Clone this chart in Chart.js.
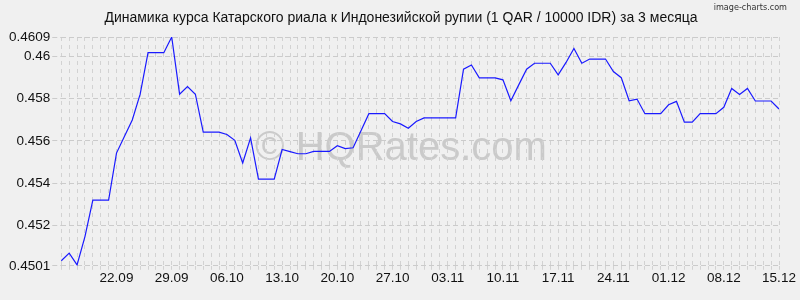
<!DOCTYPE html>
<html lang="ru">

<head>
    <meta charset="UTF-8">
    <title>QAR / IDR</title>
    <style>
        body { margin: 0; background: #f0f0f0; }
    </style>
</head>

<body>
    <canvas id="myChart" width="800" height="300"></canvas>

    <script src="https://cdn.jsdelivr.net/npm/chart.js"></script>

    <script>
        // даты (по дням, 15.09 - 15.12)
        const v_dates = [
            "15.09", "16.09", "17.09", "18.09", "19.09", "20.09", "21.09", "22.09", "23.09", "24.09",
            "25.09", "26.09", "27.09", "28.09", "29.09", "30.09",
            "01.10", "02.10", "03.10", "04.10", "05.10", "06.10", "07.10", "08.10", "09.10", "10.10",
            "11.10", "12.10", "13.10", "14.10", "15.10", "16.10", "17.10", "18.10", "19.10", "20.10",
            "21.10", "22.10", "23.10", "24.10", "25.10", "26.10", "27.10", "28.10", "29.10", "30.10", "31.10",
            "01.11", "02.11", "03.11", "04.11", "05.11", "06.11", "07.11", "08.11", "09.11", "10.11",
            "11.11", "12.11", "13.11", "14.11", "15.11", "16.11", "17.11", "18.11", "19.11", "20.11",
            "21.11", "22.11", "23.11", "24.11", "25.11", "26.11", "27.11", "28.11", "29.11", "30.11",
            "01.12", "02.12", "03.12", "04.12", "05.12", "06.12", "07.12", "08.12", "09.12", "10.12",
            "11.12", "12.12", "13.12", "14.12", "15.12"
        ];

        // курс 1 QAR / 10000 IDR
        const v_rates = [
            0.45034, 0.45070, 0.45014, 0.45148, 0.45320, 0.45320, 0.45320, 0.45542, 0.45620, 0.45698,
            0.45820, 0.46016, 0.46016, 0.46016, 0.46090, 0.45820,
            0.45856, 0.45820, 0.45641, 0.45641, 0.45641, 0.45630, 0.45602, 0.45495, 0.45614, 0.45419,
            0.45419, 0.45419, 0.45559, 0.45549, 0.45539, 0.45539, 0.45550, 0.45550, 0.45550, 0.45577,
            0.45563, 0.45567, 0.45648, 0.45728, 0.45728, 0.45728, 0.45691, 0.45680, 0.45659, 0.45691, 0.45708,
            0.45708, 0.45708, 0.45708, 0.45708, 0.45938, 0.45958, 0.45897, 0.45897, 0.45897, 0.45888,
            0.45789, 0.45864, 0.45938, 0.45966, 0.45966, 0.45966, 0.45911, 0.45970, 0.46036, 0.45966,
            0.45986, 0.45986, 0.45986, 0.45927, 0.45898, 0.45789, 0.45797, 0.45728, 0.45728, 0.45728,
            0.45770, 0.45786, 0.45688, 0.45688, 0.45728, 0.45728, 0.45728, 0.45758, 0.45847, 0.45819,
            0.45847, 0.45788, 0.45788, 0.45788, 0.45750
        ];

        // подписи по оси X (раз в неделю)
        const v_xTickLabels = ["22.09", "29.09", "06.10", "13.10", "20.10", "27.10", "03.11",
            "10.11", "17.11", "24.11", "01.12", "08.12", "15.12"];

        // подписи по оси Y
        const v_yTicks = [0.4501, 0.452, 0.454, 0.456, 0.458, 0.46, 0.4609];
        const v_yTickLabels = ["0.4501", "0.452", "0.454", "0.456", "0.458", "0.46", "0.4609"];

        const v_title = "Динамика курса Катарского риала к Индонезийской рупии (1 QAR / 10000 IDR) за 3 месяца";
        const v_font = "'Liberation Sans', Arial, sans-serif";

        // фон, водяной знак, заголовок и подпись сервиса
        const p_decor = {
            id: "decor",
            beforeDraw(chart) {
                const c = chart.ctx;
                c.save();
                c.fillStyle = "#f0f0f0";
                c.fillRect(0, 0, chart.width, chart.height);
                c.fillStyle = "#cacaca";
                c.font = "40px " + v_font;
                c.textAlign = "center";
                c.textBaseline = "alphabetic";
                c.fillText("© HQRates.com", 401, 160);

                // заголовок по центру всего полотна
                c.fillStyle = "#111";
                c.font = "14px " + v_font;
                c.textBaseline = "middle";
                c.fillText(v_title, 401, 18);

                c.fillStyle = "#333";
                c.font = "9px 'DejaVu Sans Condensed', 'DejaVu Sans', sans-serif";
                c.textAlign = "right";
                c.textBaseline = "alphabetic";
                c.fillText("image-charts.com", 787, 10);
                c.restore();
            }
        };

        const ctx = document.getElementById("myChart");

        let v_chart = new Chart(ctx, {
            type: "line",
            data: {
                labels: v_dates,
                datasets: [{
                    data: v_rates,
                    borderWidth: 1.2,
                    borderColor: "#1a1aff",
                    pointRadius: 0,
                    tension: 0
                }]
            },
            options: {
                responsive: false,
                animation: false,
                devicePixelRatio: 1,
                layout: {
                    padding: { left: 7, right: 21, top: 37, bottom: 14 }
                },
                plugins: {
                    legend: { display: false },
                    tooltip: { enabled: false },
                    title: { display: false }
                },
                scales: {
                    x: {
                        grid: {
                            color: "#d2d2d2",
                            tickColor: "#d2d2d2",
                            tickLength: 4,
                            tickBorderDash: [4, 4]
                        },
                        border: { display: false, dash: [4, 4] },
                        ticks: {
                            autoSkip: false,
                            maxRotation: 0,
                            padding: 0,
                            color: "#111",
                            font: { family: v_font, size: 13.5 },
                            callback: function (val, idx) {
                                let d = v_dates[idx];
                                return v_xTickLabels.includes(d) ? d : "";
                            }
                        }
                    },
                    y: {
                        min: 0.4501,
                        max: 0.4609,
                        afterBuildTicks: function (axis) {
                            axis.ticks = v_yTicks.map(v => ({ value: v }));
                        },
                        grid: {
                            color: "#cbcbcb",
                            tickColor: "#cbcbcb",
                            tickLength: 9,
                            tickBorderDash: [5, 3]
                        },
                        border: { display: false, dash: [5, 3] },
                        ticks: {
                            autoSkip: false,
                            padding: 2,
                            color: "#111",
                            font: { family: v_font, size: 13.5 },
                            callback: function (val) {
                                let i = v_yTicks.indexOf(val);
                                return i >= 0 ? v_yTickLabels[i] : "";
                            }
                        }
                    }
                }
            },
            plugins: [p_decor]
        });
    </script>
</body>

</html>
